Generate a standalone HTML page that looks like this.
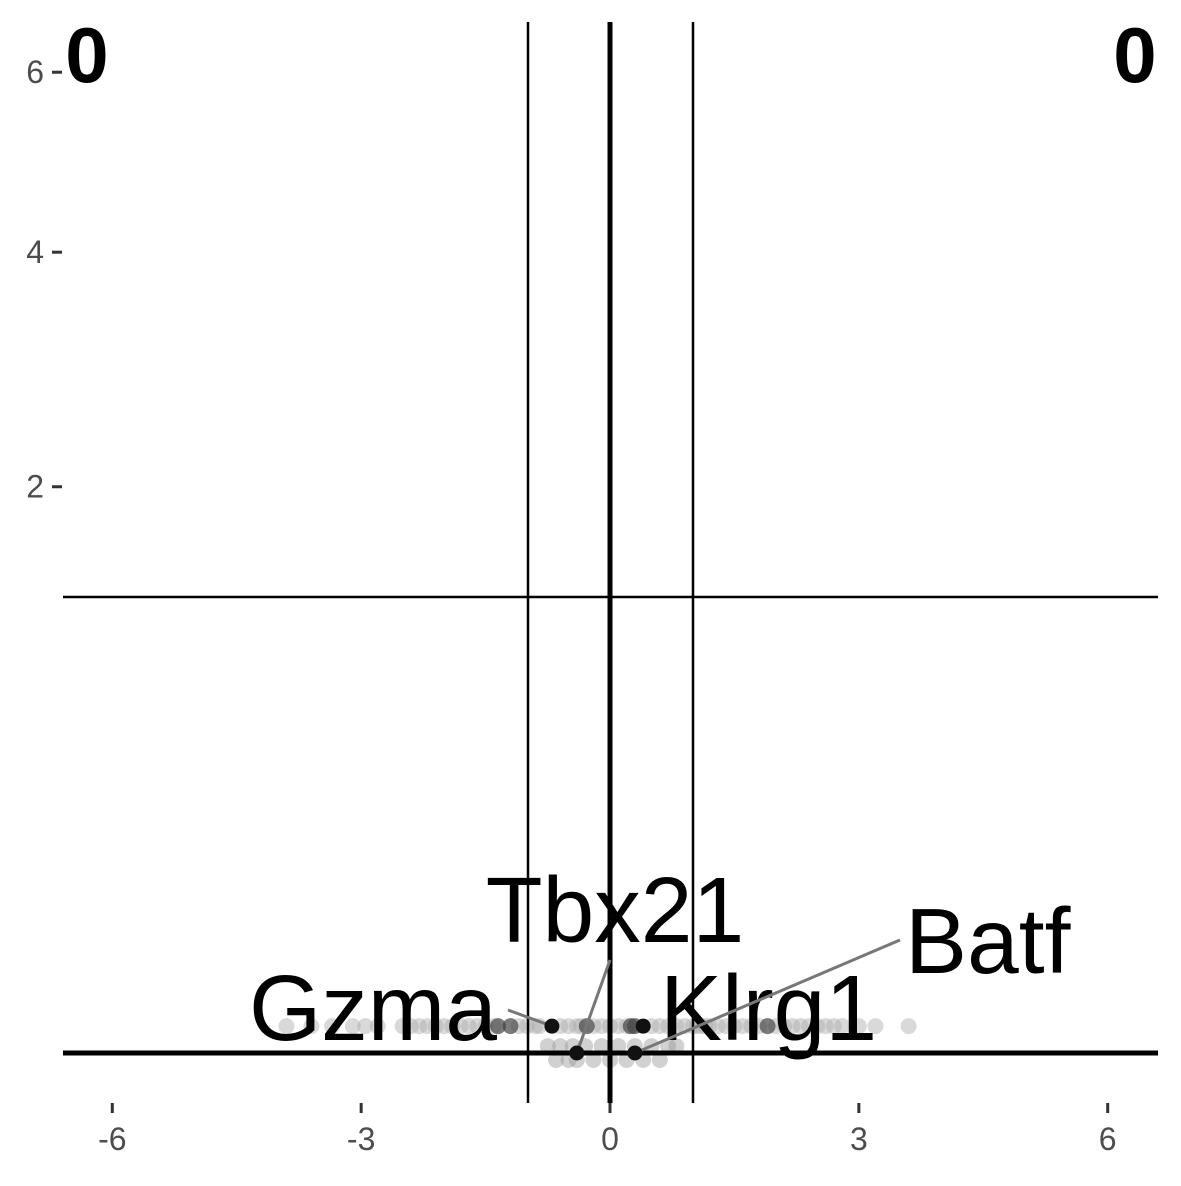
<!DOCTYPE html>
<html><head><meta charset="utf-8"><style>
body{margin:0;background:#fff}
svg{font-family:"Liberation Sans",sans-serif}
</style></head><body>
<svg id="c" width="1181" height="1181" xmlns="http://www.w3.org/2000/svg"></svg>
<script>
const lightX=[-3.9,-3.6,-3.35,-3.1,-2.95,-2.8,-2.5,-2.4,-2.3,-2.2,-2.1,-2.0,-1.9,-1.8,-1.7,-1.6,-1.5,-1.4,-1.1,-1.0,-0.9,-0.85,-0.6,-0.5,-0.4,-0.35,-0.2,-0.1,0.0,0.1,0.2,0.5,0.6,0.7,0.8,0.9,1.0,1.05,1.1,1.15,1.2,1.3,1.4,1.5,1.6,1.7,1.8,2.0,2.1,2.2,2.3,2.4,2.5,2.6,2.7,2.8,3.0,3.2,3.6];
const lightY=0.0045;
const midX=[-1.35,-1.2,-0.28,0.25,0.3,1.9];
const lowX=[-0.75,-0.65,-0.6,-0.5,-0.45,-0.4,-0.3,-0.2,-0.1,0.0,0.1,0.2,0.3,0.4,0.5,0.6,0.7,0.8];
const lowY=[0.0003,-0.0003,0.0003,-0.0003,0.0003,-0.0003,0.0003,-0.0003,0.0003,-0.0003,0.0003,-0.0003,0.0003,-0.0003,0.0003,-0.0003,0.0003,0.0003];
const genes=["Gzma","Tbx21","Klrg1","Batf"];
const geneX=[-0.7,-0.4,0.4,0.3];
const geneY=[0.0045,0.0,0.0045,0.0];
const labelPos=[[497,1040,"end",508,1010],[615,942,"middle",610,960],[660,1040,"start",null,null],[905,973,"start",900,940]];
const xTicks=[-6,-3,0,3,6];
const yTicks=[2,4,6];
const X=v=>610+v*82.95;
const Y=v=>1053-Math.sign(v)*Math.sqrt(Math.abs(v))*400.4;
const svg=document.getElementById('c');
const NS="http://www.w3.org/2000/svg";
function mk(t,a,p){const e=document.createElementNS(NS,t);for(const k in a)e.setAttribute(k,a[k]);(p||svg).appendChild(e);return e;}
lightX.forEach(x=>{const e=mk('circle',{cx:X(x),cy:Y(lightY),r:8,fill:'#aaa','fill-opacity':0.45});

});
lowX.forEach((x,i)=>{const e=mk('circle',{cx:X(x),cy:Y(lowY[i]),r:8,fill:'#999','fill-opacity':0.45});

});
midX.forEach(x=>{const e=mk('circle',{cx:X(x),cy:Y(lightY),r:8,fill:'#444','fill-opacity':0.7});

});
[[528,22,528,1103,2.5],[693,22,693,1103,2.5],[610,22,610,1103,5],[63,597,1158,597,2.5],[63,1053,1158,1053,5]].forEach(l=>{
const e=mk('line',{x1:l[0],y1:l[1],x2:l[2],y2:l[3],stroke:'#000','stroke-width':l[4]});

});
genes.forEach((g,i)=>{const px=X(geneX[i]),py=Y(geneY[i]);const lp=labelPos[i];
if(lp[3]!==null){const s=mk('line',{x1:lp[3],y1:lp[4],x2:px,y2:py,stroke:'#777','stroke-width':3});

}
const d=mk('circle',{cx:px,cy:py,r:7.5,fill:'#111'});


const t=mk('text',{x:lp[0],y:lp[1],'text-anchor':lp[2],'font-size':93});t.textContent=g;

});
xTicks.forEach(v=>{const e=mk('line',{x1:X(v),y1:1103,x2:X(v),y2:1113,stroke:'#333','stroke-width':3});


const t=mk('text',{x:X(v),y:1150,'text-anchor':'middle','font-size':32,fill:'#4d4d4d'});t.textContent=v;

});
yTicks.forEach(v=>{const e=mk('line',{x1:52,y1:Y(v),x2:62,y2:Y(v),stroke:'#333','stroke-width':3});


const t=mk('text',{x:44,y:Y(v)+11,'text-anchor':'end','font-size':32,fill:'#4d4d4d'});t.textContent=v;

});
[[87,'middle'],[1135,'middle']].forEach(c=>{const t=mk('text',{x:c[0],y:82,'text-anchor':c[1],'font-size':78,'font-weight':'bold'});t.textContent='0';

});
</script>
</body></html>
